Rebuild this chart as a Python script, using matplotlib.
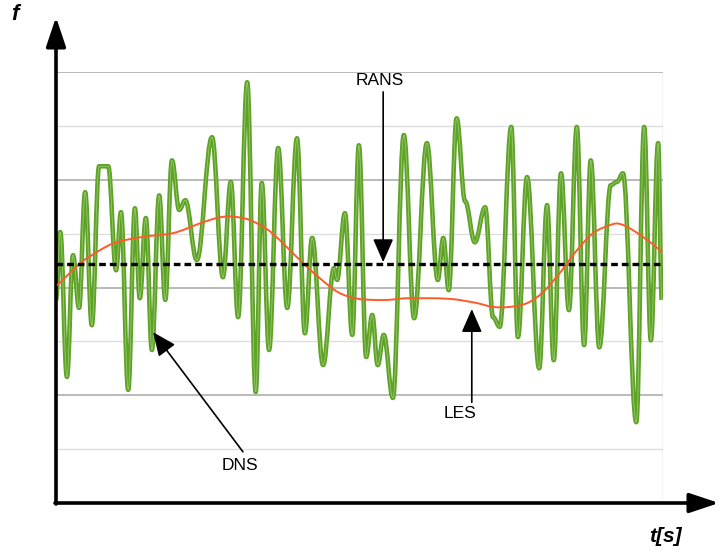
import matplotlib
matplotlib.use("Agg")
import matplotlib.pyplot as plt
from matplotlib.path import Path
from matplotlib.patches import PathPatch

plt.rcParams["font.family"] = ["Liberation Sans", "DejaVu Sans"]

# DNS signal: extrema (t in s, f in grid units)
dns_t = [0.00, 0.07, 0.18, 0.28, 0.38, 0.48, 0.59, 0.71, 0.86, 0.99, 1.07, 1.19,
         1.30, 1.38, 1.48, 1.58, 1.70, 1.80, 1.91, 2.03, 2.13, 2.32, 2.57, 2.75,
         2.88, 3.00, 3.15, 3.29, 3.39, 3.51, 3.66, 3.81, 3.97, 4.10, 4.22, 4.40,
         4.58, 4.63, 4.76, 4.88, 4.99, 5.11, 5.21, 5.30, 5.40, 5.55, 5.73, 5.90,
         6.11, 6.29, 6.38, 6.47, 6.60, 6.74, 6.90, 7.07, 7.20, 7.31, 7.50, 7.61,
         7.76, 7.96, 8.09, 8.20, 8.32, 8.45, 8.58, 8.70, 8.81, 8.95, 9.14, 9.24,
         9.34, 9.56, 9.69, 9.80, 9.92, 9.98]
dns_f = [3.77, 5.03, 2.34, 4.60, 3.62, 5.77, 3.30, 6.25, 6.25, 4.32, 5.40, 2.10,
         5.47, 3.80, 5.29, 2.84, 5.71, 3.77, 6.36, 5.44, 5.62, 4.51, 6.79, 4.19,
         5.96, 3.45, 7.81, 2.06, 5.94, 2.84, 6.59, 3.62, 6.77, 3.15, 4.92, 2.56,
         4.36, 4.14, 5.38, 3.12, 6.64, 2.71, 3.49, 2.56, 3.12, 1.95, 6.83, 3.43,
         6.68, 4.14, 4.92, 3.95, 7.14, 5.60, 4.84, 5.49, 3.45, 3.27, 6.98, 3.08,
         6.05, 2.50, 5.53, 2.65, 6.12, 3.58, 6.98, 2.93, 6.36, 2.89, 5.90, 5.96,
         6.12, 1.50, 6.98, 3.02, 6.68, 3.77]

# LES signal
les_t = [0.02, 0.40, 0.72, 1.00, 1.43, 1.93, 2.37, 2.65, 2.87, 3.15, 3.36, 3.56,
         3.82, 4.10, 4.38, 4.65, 4.93, 5.21, 5.47, 5.75, 6.03, 6.29, 6.57, 6.74,
         6.94, 7.20, 7.48, 7.76, 8.02, 8.30, 8.58, 8.85, 9.13, 9.29, 9.51, 9.79,
         9.98]
les_f = [4.04, 4.45, 4.69, 4.84, 4.94, 5.01, 5.19, 5.29, 5.32, 5.27, 5.16, 5.01,
         4.73, 4.42, 4.14, 3.91, 3.80, 3.77, 3.77, 3.80, 3.80, 3.80, 3.78, 3.75,
         3.71, 3.64, 3.64, 3.71, 3.91, 4.27, 4.69, 5.01, 5.16, 5.18, 5.06, 4.84,
         4.66]

# RANS mean
rans_f = 4.43
t_end = 9.98


def smooth_path(xs, ys, k=0.38):
    """Cubic Bezier path through the extrema, flat tangent at each point."""
    verts = [(xs[0], ys[0])]
    codes = [Path.MOVETO]
    for i in range(1, len(xs)):
        dx = xs[i] - xs[i - 1]
        verts += [(xs[i - 1] + k * dx, ys[i - 1]), (xs[i] - k * dx, ys[i]), (xs[i], ys[i])]
        codes += [Path.CURVE4] * 3
    return Path(verts, codes)


def catmull_path(xs, ys):
    """Smooth Bezier path through points using Catmull-Rom tangents."""
    verts = [(xs[0], ys[0])]
    codes = [Path.MOVETO]
    n = len(xs)
    for i in range(1, n):
        x0, y0 = xs[max(i - 2, 0)], ys[max(i - 2, 0)]
        x1, y1 = xs[i - 1], ys[i - 1]
        x2, y2 = xs[i], ys[i]
        x3, y3 = xs[min(i + 1, n - 1)], ys[min(i + 1, n - 1)]
        verts += [(x1 + (x2 - x0) / 6, y1 + (y2 - y0) / 6),
                  (x2 - (x3 - x1) / 6, y2 - (y3 - y1) / 6), (x2, y2)]
        codes += [Path.CURVE4] * 3
    return Path(verts, codes)


fig = plt.figure(figsize=(7.2, 5.52), dpi=100)
ax = fig.add_axes([56 / 720, 49 / 552, 607 / 720, 431 / 552])
ax.set_xlim(0, 10)
ax.set_ylim(0, 8)
ax.set_axis_off()

# grid, alternating shades
for level in range(1, 9):
    dark = level % 2 == 0
    ax.axhline(level, color="#b4b4b4" if dark else "#dedede",
               lw=1.3 if dark else 1.0, zorder=1)
ax.axvline(10, color="#c8c8c8", lw=1.0, zorder=1)

dns_path = smooth_path(dns_t, dns_f)
ax.add_patch(PathPatch(dns_path, fill=False, edgecolor="#5ea326", lw=3.3,
                       joinstyle="round", zorder=3))
ax.add_patch(PathPatch(dns_path, fill=False, edgecolor="#c5e2ad", lw=0.6,
                       alpha=0.55, zorder=3))
ax.add_patch(PathPatch(catmull_path(les_t, les_f), fill=False, edgecolor="#ff5a2a",
                       lw=1.4, zorder=4))
ax.plot([0, t_end], [rans_f, rans_f], color="black", lw=2.4,
        dashes=(2.0, 1.2), zorder=5)

# annotations
arrow = dict(arrowstyle="-|>,head_length=0.8,head_width=0.35", color="black",
             lw=1.2, mutation_scale=18, shrinkA=0, shrinkB=0)
ax.annotate("", xy=(5.39, 4.47), xytext=(5.39, 7.63), arrowprops=arrow, zorder=6)
ax.text(5.34, 7.85, "RANS", ha="center", va="center", fontsize=12.5)
ax.annotate("", xy=(6.85, 3.60), xytext=(6.85, 1.87), arrowprops=arrow, zorder=6)
ax.text(6.66, 1.67, "LES", ha="center", va="center", fontsize=12.5)
ax.annotate("", xy=(1.60, 3.17), xytext=(3.08, 0.95), arrowprops=arrow, zorder=6)
ax.text(3.03, 0.70, "DNS", ha="center", va="center", fontsize=12.5)

# coordinate axes with arrow heads
ax_arrow = dict(arrowstyle="-|>,head_length=0.9,head_width=0.3", color="black",
                lw=2.6, mutation_scale=20, shrinkA=0, shrinkB=0)
ax.annotate("", xy=(56, 535), xytext=(56, 48), xycoords="figure pixels",
            textcoords="figure pixels", arrowprops=ax_arrow, annotation_clip=False)
ax.annotate("", xy=(719, 49), xytext=(55, 49), xycoords="figure pixels",
            textcoords="figure pixels", arrowprops=ax_arrow, annotation_clip=False)

fig.text(15 / 720, 1 - 14 / 552, "f", fontsize=16, fontweight="bold",
         fontstyle="italic", ha="center", va="center")
fig.text(665 / 720, 1 - 536 / 552, "t[s]", fontsize=15, fontweight="bold",
         fontstyle="italic", ha="center", va="center")

fig.savefig("out.png", dpi=100)
